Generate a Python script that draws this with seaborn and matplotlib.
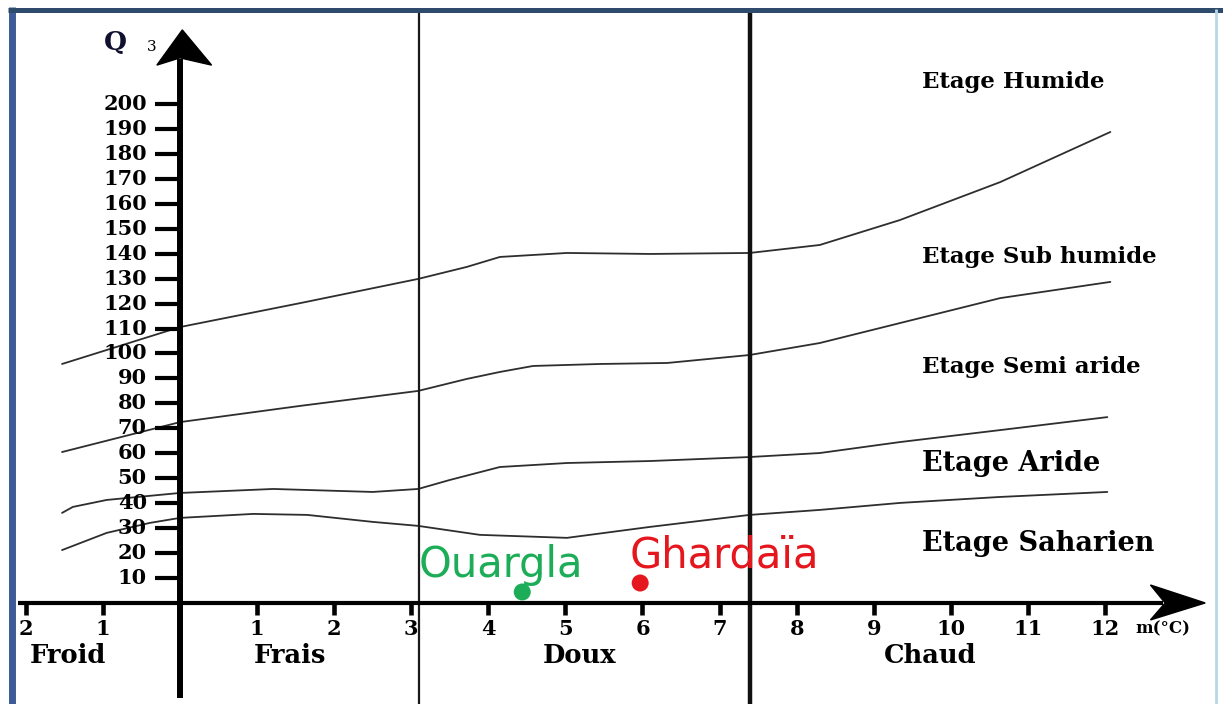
import numpy as np
import pandas as pd
import seaborn as sns
import matplotlib.pyplot as plt
from matplotlib.lines import Line2D

# Climagramme d'Emberger : Q3 en fonction de m (°C)
# limites entre les étages
lim1_m = [-1.53, 0, 1.56, 3.09, 3.72, 4.15, 5.02, 6.10, 7.39, 8.30, 9.34, 10.64, 12.07]
lim1_q = [95.8, 110.6, 120.2, 129.9, 134.7, 138.7, 140.3, 139.9, 140.3, 143.5, 153.5, 168.7, 188.8]

lim2_m = [-1.53, 0, 1.56, 3.09, 3.72, 4.15, 4.58, 5.45, 6.32, 7.39, 8.30, 9.34, 10.64, 12.07]
lim2_q = [60.5, 72.5, 79.0, 85.0, 89.8, 92.6, 95.0, 95.8, 96.2, 99.4, 104.2, 112.2, 122.2, 128.7]

lim3_m = [-1.53, -1.39, -0.95, 0, 1.21, 2.50, 3.09, 3.50, 4.15, 5.02, 6.10, 7.39, 8.30, 9.34, 10.64, 12.03]
lim3_q = [36.1, 38.5, 41.3, 44.1, 45.7, 44.5, 45.7, 49.3, 54.5, 56.1, 56.9, 58.5, 60.1, 64.5, 69.3, 74.5]

lim4_m = [-1.53, -0.95, -0.39, 0, 0.95, 1.65, 2.50, 3.09, 3.89, 5.02, 6.10, 7.39, 8.30, 9.34, 10.64, 12.03]
lim4_q = [21.2, 28.1, 32.1, 34.1, 35.7, 35.3, 32.5, 30.9, 27.3, 26.1, 30.5, 35.3, 37.3, 40.1, 42.5, 44.5]

stations = ['Ouargla', 'Ghardaïa']
station_m = [4.44, 5.97]
station_q = [4.4, 8.0]
station_colors = ['#1dad58', '#e5161d']

etages = ['Etage Humide', 'Etage Sub humide', 'Etage Semi aride', 'Etage Aride', 'Etage Saharien']
etage_q = [208.8, 138.7, 94.6, 56.1, 24.0]
etage_size = [16.5, 16.5, 16.5, 19.5, 19.5]

zones = ['Froid', 'Frais', 'Doux', 'Chaud']
zone_m = [-1.45, 1.43, 5.19, 9.73]

y_ticks = list(range(10, 201, 10))
x_ticks = [-2, -1, 1, 2, 3, 4, 5, 6, 7, 8, 9, 10, 11, 12]
x_ticklabels = ['2', '1', '1', '2', '3', '4', '5', '6', '7', '8', '9', '10', '11', '12']
boundaries_m = [3.1, 7.4]

sns.set_style('white')
plt.rcParams['font.family'] = ['DejaVu Serif']
plt.rcParams['text.color'] = 'black'

fig = plt.figure(figsize=(12.23, 7.04), dpi=100)
ax = fig.add_axes([0, 0, 1, 1])
ax.set_xlim(-2.335, 13.531)
ax.set_ylim(-40.5, 241.7)
ax.axis('off')

# courbes limites
frames = []
for name, mm, qq in [('l1', lim1_m, lim1_q), ('l2', lim2_m, lim2_q),
                     ('l3', lim3_m, lim3_q), ('l4', lim4_m, lim4_q)]:
    frames.append(pd.DataFrame({'m': mm, 'Q': qq, 'limite': name}))
curves = pd.concat(frames, ignore_index=True)
sns.lineplot(data=curves, x='m', y='Q', units='limite', estimator=None, sort=False,
             color='#2e2e2e', lw=1.3, ax=ax)

# limites verticales des variantes thermiques
ax.plot([boundaries_m[0]] * 2, [-41, 237], color='#1a1a1a', lw=1.6)
ax.plot([boundaries_m[1]] * 2, [-41, 237], color='#111111', lw=3.2)

# axe des ordonnées avec flèche
ax.plot([0, 0], [-38, 218], color='black', lw=4.3, solid_capstyle='butt')
ax.fill([0.03, -0.30, 0.0, 0.41], [229.7, 215.6, 218.5, 215.6], color='black')
for q in y_ticks:
    ax.plot([-0.32, 0], [q, q], color='black', lw=3, solid_capstyle='butt')
    ax.text(-0.43, q, str(q), ha='right', va='center', fontsize=15, fontweight='bold')
ax.text(-0.84, 224.8, 'Q', ha='center', va='center', fontsize=19, fontweight='bold',
        color='#101030')
ax.text(-0.37, 222.8, '3', ha='center', va='center', fontsize=11)

# axe des abscisses avec flèche
ax.plot([-2.10, 12.75], [0, 0], color='black', lw=3, solid_capstyle='butt')
ax.fill([13.30, 12.59, 12.78, 12.59], [0, 7.2, 0, -6.8], color='black')
for m, lab in zip(x_ticks, x_ticklabels):
    ax.plot([m, m], [0, -4.8], color='black', lw=3.3, solid_capstyle='butt')
    ax.text(m, -10.5, lab, ha='center', va='center', fontsize=15, fontweight='bold')
ax.text(12.39, -10.5, 'm(°C)', ha='left', va='center', fontsize=12, fontweight='bold')

for name, m in zip(zones, zone_m):
    ax.text(m, -21, name, ha='center', va='center', fontsize=18.5, fontweight='bold')

for name, q, fs in zip(etages, etage_q, etage_size):
    ax.text(9.63, q, name, ha='left', va='center', fontsize=fs, fontweight='bold')

# stations
st = pd.DataFrame({'station': stations, 'm': station_m, 'Q': station_q})
sns.scatterplot(data=st, x='m', y='Q', hue='station',
                palette=dict(zip(stations, station_colors)), s=150,
                linewidth=0, legend=False, zorder=5, ax=ax)
offsets = [(-104, 15), (-11, 16)]
for name, m, q, c, off in zip(stations, station_m, station_q, station_colors, offsets):
    ax.annotate(name, (m, q), xytext=off, textcoords='offset pixels',
                ha='left', va='baseline', fontsize=30, color=c,
                family=['DejaVu Sans'])

# cadre de l'image
W, H = 1223, 704
fig.add_artist(Line2D([11.5 / W, 11.5 / W], [0, 1 - 7 / H], transform=fig.transFigure,
                      color='#3d5b94', lw=5, solid_capstyle='butt'))
fig.add_artist(Line2D([8 / W, 1], [1 - 9.5 / H, 1 - 9.5 / H], transform=fig.transFigure,
                      color='#2f4b6c', lw=3.6, solid_capstyle='butt'))
fig.add_artist(Line2D([1216 / W, 1216 / W], [0, 1 - 9 / H], transform=fig.transFigure,
                      color='#b6d8e6', lw=2, solid_capstyle='butt'))

fig.savefig('out.png', dpi=100)
